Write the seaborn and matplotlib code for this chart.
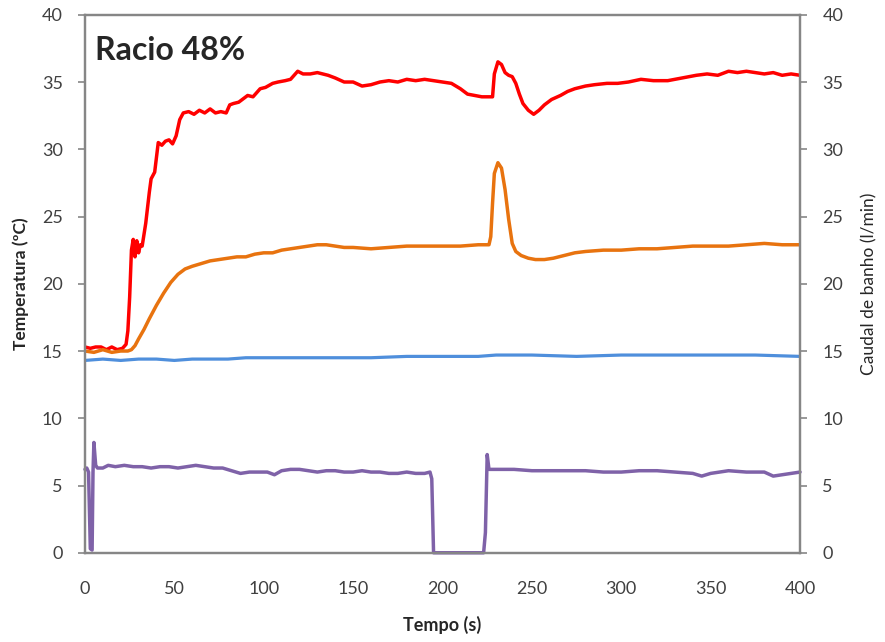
import matplotlib
matplotlib.use("Agg")
import matplotlib.pyplot as plt
import numpy as np
import pandas as pd
import seaborn as sns

# Temperature series (left axis)
t_red = [0, 3, 6, 9, 12, 15, 18, 21, 23, 24, 25, 26, 27, 28, 29, 30, 31, 32, 34, 36, 37, 39,
         41, 43, 45, 47, 49, 51, 53, 55, 58, 61, 64, 67, 70, 73, 76, 79, 81, 83, 86, 89, 91,
         94, 98, 101, 105, 108, 112, 115, 119, 122, 126, 130, 133, 136, 140, 145, 150, 155,
         160, 165, 170, 175, 180, 185, 190, 195, 200, 205, 210, 214, 218, 222, 226, 228, 229,
         231, 233, 235, 237, 239, 241, 243, 245, 248, 251, 254, 257, 261, 266, 270, 274, 280,
         285, 292, 298, 304, 311, 318, 326, 334, 342, 348, 354, 360, 365, 370, 375, 380, 385,
         390, 395, 400]
red = [15.3, 15.2, 15.3, 15.3, 15.1, 15.3, 15.1, 15.2, 15.5, 16.5, 19.0, 22.5, 23.3, 22.0, 23.2,
       22.3, 22.9, 22.8, 24.5, 26.8, 27.8, 28.3, 30.5, 30.3, 30.6, 30.7, 30.4, 31.0, 32.2, 32.7,
       32.8, 32.6, 32.9, 32.7, 33.0, 32.7, 32.8, 32.7, 33.3, 33.4, 33.5, 33.8, 34.0, 33.9, 34.5,
       34.6, 34.9, 35.0, 35.1, 35.2, 35.8, 35.6, 35.6, 35.7, 35.6, 35.5, 35.3, 35.0, 35.0, 34.7,
       34.8, 35.0, 35.1, 35.0, 35.2, 35.1, 35.2, 35.1, 35.0, 34.9, 34.5, 34.1, 34.0, 33.9, 33.9,
       33.9, 35.6, 36.5, 36.3, 35.7, 35.5, 35.4, 34.9, 34.1, 33.4, 32.9, 32.6, 32.9, 33.3, 33.7,
       34.0, 34.3, 34.5, 34.7, 34.8, 34.9, 34.9, 35.0, 35.2, 35.1, 35.1, 35.3, 35.5, 35.6, 35.5,
       35.8, 35.7, 35.8, 35.7, 35.6, 35.7, 35.5, 35.6, 35.5]

t_orange = [0, 5, 10, 15, 20, 24, 26, 28, 30, 33, 36, 40, 44, 48, 52, 56, 60, 65, 70, 75, 80,
            85, 90, 95, 100, 105, 110, 115, 120, 125, 130, 135, 140, 145, 150, 160, 170, 180,
            190, 200, 210, 220, 226, 227, 228, 229, 231, 233, 235, 237, 239, 241, 244, 248,
            252, 257, 262, 268, 274, 280, 290, 300, 310, 320, 330, 340, 350, 360, 370, 380,
            390, 400]
orange = [15.0, 14.9, 15.1, 14.9, 15.0, 15.0, 15.1, 15.4, 15.9, 16.6, 17.4, 18.4, 19.3, 20.1,
          20.7, 21.1, 21.3, 21.5, 21.7, 21.8, 21.9, 22.0, 22.0, 22.2, 22.3, 22.3, 22.5, 22.6,
          22.7, 22.8, 22.9, 22.9, 22.8, 22.7, 22.7, 22.6, 22.7, 22.8, 22.8, 22.8, 22.8, 22.9,
          22.9, 23.5, 26.0, 28.2, 29.0, 28.6, 27.0, 24.8, 23.0, 22.4, 22.1, 21.9, 21.8, 21.8,
          21.9, 22.1, 22.3, 22.4, 22.5, 22.5, 22.6, 22.6, 22.7, 22.8, 22.8, 22.8, 22.9, 23.0,
          22.9, 22.9]

t_blue = [0, 10, 20, 30, 40, 50, 60, 70, 80, 90, 100, 120, 140, 160, 180, 200, 220, 230, 250,
          275, 300, 325, 350, 375, 400]
blue = [14.3, 14.4, 14.3, 14.4, 14.4, 14.3, 14.4, 14.4, 14.4, 14.5, 14.5, 14.5, 14.5, 14.5,
        14.6, 14.6, 14.6, 14.7, 14.7, 14.6, 14.7, 14.7, 14.7, 14.7, 14.6]

# Flow series (right axis)
t_purple = [0, 1, 2, 3, 4, 4.5, 5, 6, 7, 10, 13, 17, 22, 27, 32, 37, 42, 47, 52, 57, 62, 67,
            72, 77, 82, 87, 92, 97, 102, 106, 110, 115, 120, 125, 130, 135, 140, 145, 150, 155,
            160, 165, 170, 175, 180, 185, 190, 193, 194, 195, 200, 210, 220, 223, 224, 225, 226,
            230, 240, 250, 260, 270, 280, 290, 300, 310, 320, 330, 340, 345, 350, 360, 370,
            380, 385, 390, 395, 400]
purple = [6.2, 6.3, 6.0, 0.3, 0.2, 6.0, 8.2, 6.5, 6.3, 6.3, 6.5, 6.4, 6.5, 6.4, 6.4, 6.3, 6.4,
          6.4, 6.3, 6.4, 6.5, 6.4, 6.3, 6.3, 6.1, 5.9, 6.0, 6.0, 6.0, 5.8, 6.1, 6.2, 6.2, 6.1,
          6.0, 6.1, 6.1, 6.0, 6.0, 6.1, 6.0, 6.0, 5.9, 5.9, 6.0, 5.9, 5.9, 6.0, 5.5, 0.0, 0.0,
          0.0, 0.0, 0.0, 1.5, 7.3, 6.2, 6.2, 6.2, 6.1, 6.1, 6.1, 6.1, 6.0, 6.0, 6.1, 6.1, 6.0,
          5.9, 5.7, 5.9, 6.1, 6.0, 6.0, 5.7, 5.8, 5.9, 6.0]

y_ticks = [0, 5, 10, 15, 20, 25, 30, 35, 40]
x_ticks = [0, 50, 100, 150, 200, 250, 300, 350, 400]

sns.set_style("white")
plt.rcParams['font.family'] = ['Lato', 'DejaVu Sans']

spine_col = '#868686'
tick_col = '#404040'

fig = plt.figure(figsize=(8.85, 6.42), dpi=100)
ax = fig.add_axes([0.096, 0.139, 0.808, 0.838])
ax2 = ax.twinx()

sns.lineplot(x=t_red, y=red, ax=ax, color='#FF0000', linewidth=2.5)
sns.lineplot(x=t_orange, y=orange, ax=ax, color='#E8730F', linewidth=2.5)
sns.lineplot(x=t_blue, y=blue, ax=ax, color='#4F8FDC', linewidth=2.3)
sns.lineplot(x=t_purple, y=purple, ax=ax2, color='#7F62A8', linewidth=2.5, clip_on=False)

for a in (ax, ax2):
    a.set_xlim(0, 400)
    a.set_ylim(0, 40)
    a.set_yticks(y_ticks)
    for s in a.spines.values():
        s.set_color(spine_col)
        s.set_linewidth(1.6)
    a.tick_params(axis='both', colors=spine_col, labelcolor=tick_col, labelsize=13,
                  length=5, width=1.2)

ax.set_xticks(x_ticks)
ax.tick_params(axis='x', pad=15)
ax.tick_params(axis='y', left=True, pad=11)
ax2.tick_params(axis='y', right=True, pad=11)

ax.set_xlabel('Tempo (s)', fontsize=13, fontweight='bold', labelpad=14)
ax.set_ylabel('Temperatura (ºC)', fontsize=12.5, fontweight='bold', labelpad=9)
ax2.set_ylabel('Caudal de banho (l/min)', fontsize=12.5, labelpad=13)

ax.text(0.014, 0.96, 'Racio 48%', transform=ax.transAxes, fontsize=23,
        fontweight='bold', va='top', ha='left')

fig.savefig('out.png', dpi=100)
